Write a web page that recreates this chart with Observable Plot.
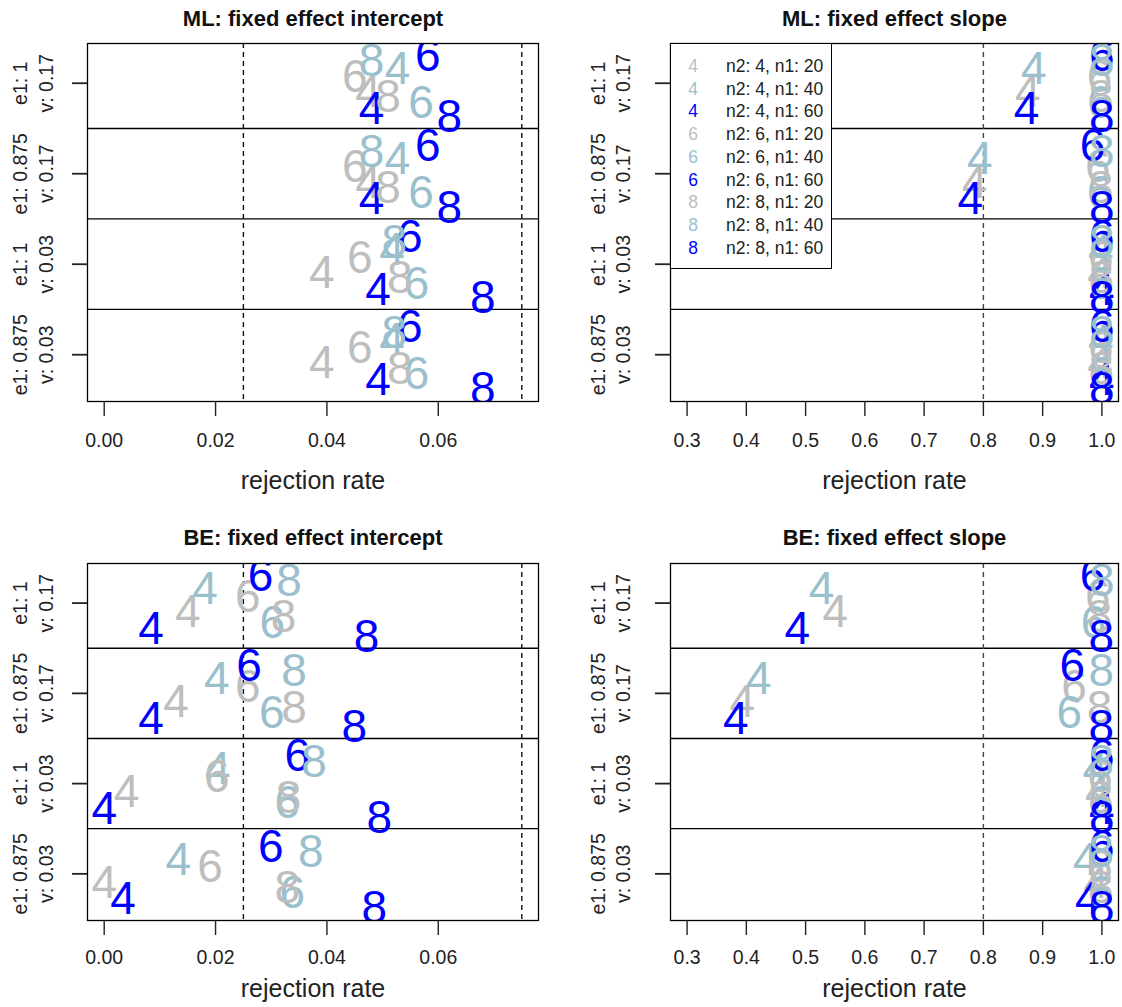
<!DOCTYPE html>
<html><head><meta charset="utf-8">
<script src="https://cdn.jsdelivr.net/npm/d3@7"></script>
<script src="https://cdn.jsdelivr.net/npm/@observablehq/plot@0.6"></script>
<style>
body{margin:0;background:#fff;}
#wrap{position:relative;width:1122px;height:1007px;overflow:hidden;font-family:"Liberation Sans",Arial,sans-serif;background:#fff;}
.panel{position:absolute;}
#legend{position:absolute;left:670px;top:43px;width:162px;height:226px;box-sizing:border-box;border:1.3px solid #000;background:#fff;}
.lrow{position:absolute;left:0;height:20px;line-height:20px;font-size:17.5px;color:#222;white-space:nowrap;}
.ldig{position:absolute;width:20px;text-align:center;}
.ltxt{position:absolute;}
</style></head><body><div id="wrap"></div>
<script>
// groups (rows of each panel)
const groupLine1 = ["e1: 1", "e1: 0.875", "e1: 1", "e1: 0.875"];
const groupLine2 = ["v: 0.17", "v: 0.17", "v: 0.03", "v: 0.03"];
// series order: (n2, n1)
const n2 = [4, 4, 4, 6, 6, 6, 8, 8, 8];
const n1 = [20, 40, 60, 20, 40, 60, 20, 40, 60];
const n1Colors = {20: "#bebebe", 40: "#9ac0cd", 60: "#0000ff"};
// vertical jitter of each series within a row (row units)
const jitter = [0.10, -0.155, 0.285, -0.07, 0.22, -0.30, 0.16, -0.24, 0.38];

// rejection rates, one array per row, series in the order above
const mlIntercept = [
  [0.0474, 0.0527, 0.0480, 0.0450, 0.0569, 0.0581, 0.0510, 0.0480, 0.0620],
  [0.0474, 0.0527, 0.0480, 0.0450, 0.0569, 0.0581, 0.0510, 0.0480, 0.0620],
  [0.0391, 0.0517, 0.0492, 0.0459, 0.0561, 0.0549, 0.0531, 0.0521, 0.0680],
  [0.0391, 0.0517, 0.0492, 0.0459, 0.0561, 0.0549, 0.0531, 0.0521, 0.0680]
];
const mlSlope = [
  [0.875, 0.885, 0.873, 0.996, 0.997, 1.000, 0.998, 1.000, 1.000],
  [0.785, 0.794, 0.778, 0.993, 0.996, 0.984, 0.998, 1.000, 1.000],
  [0.997, 0.998, 1.000, 0.998, 0.999, 1.000, 0.999, 1.000, 1.000],
  [0.997, 0.998, 1.000, 0.998, 0.999, 1.000, 0.999, 1.000, 1.000]
];
const beIntercept = [
  [0.0150, 0.0181, 0.0084, 0.0258, 0.0302, 0.0281, 0.0322, 0.0332, 0.0471],
  [0.0129, 0.0202, 0.0084, 0.0258, 0.0301, 0.0260, 0.0341, 0.0341, 0.0449],
  [0.0040, 0.0204, 0.0000, 0.0202, 0.0329, 0.0347, 0.0331, 0.0377, 0.0494],
  [0.0000, 0.0133, 0.0034, 0.0190, 0.0338, 0.0299, 0.0329, 0.0371, 0.0485]
];
const beSlope = [
  [0.550, 0.527, 0.486, 0.993, 0.986, 0.984, 0.996, 1.000, 0.999],
  [0.393, 0.421, 0.382, 0.953, 0.945, 0.950, 0.996, 0.999, 0.999],
  [0.993, 0.989, 1.000, 0.997, 0.998, 1.000, 0.998, 0.999, 1.000],
  [0.990, 0.973, 0.976, 0.997, 0.998, 1.000, 0.998, 0.999, 1.000]
];

const interceptTicks = [0, 0.02, 0.04, 0.06];
const slopeTicks = [0.3, 0.4, 0.5, 0.6, 0.7, 0.8, 0.9, 1.0];
const interceptRefs = [0.025, 0.075];
const slopeRefs = [0.8];

const FONT = "'Liberation Sans', Arial, sans-serif";
const wrap = document.getElementById("wrap");

function panel(o) {
  const data = [];
  o.rows.forEach((vals, g) => vals.forEach((v, i) => data.push({
    x: v, y: g + 1 + jitter[i], label: String(n2[i]), color: n1Colors[n1[i]]
  })));
  const chart = Plot.plot({
    width: o.width, height: o.height,
    marginTop: o.mt, marginBottom: o.mb, marginLeft: o.ml, marginRight: o.mr,
    x: {domain: o.domain},
    y: {domain: [0.561, 4.517], reverse: true},
    style: {fontFamily: FONT, fontSize: "19.5px", color: "#222", background: "white", overflow: "visible"},
    marks: [
      Plot.ruleY([1.5, 2.5, 3.5], {stroke: "#000", strokeWidth: 1.3}),
      Plot.ruleX(o.refs, {stroke: o.refColor, strokeDasharray: "5,4", strokeWidth: 1.4}),
      Plot.text(data, {x: "x", y: "y", text: "label", fill: "color", fontSize: 46, clip: true}),
      Plot.frame({stroke: "#000", strokeWidth: 1.3}),
      Plot.axisX({ticks: o.ticks, tickFormat: o.fmt, tickSize: 15, tickPadding: o.tp, label: null, fontSize: 19.5, strokeWidth: 1.4, fill: "#222"}),
      Plot.axisY({ticks: [1, 2, 3, 4], tickSize: 15, tickFormat: () => "", label: null, strokeWidth: 1.8}),
      Plot.text(groupLine1, {y: (d, i) => i + 1, frameAnchor: "left", textAnchor: "middle", lineAnchor: "middle", dx: o.ydx1, rotate: -90, fontSize: 19.5, fill: "#222"}),
      Plot.text(groupLine2, {y: (d, i) => i + 1, frameAnchor: "left", textAnchor: "middle", lineAnchor: "middle", dx: o.ydx2, rotate: -90, fontSize: 19.5, fill: "#222"}),
      Plot.text([o.title], {frameAnchor: "top", lineAnchor: "middle", dy: o.titleDy, fontSize: 22, fontWeight: "bold", fill: "#111"}),
      Plot.text(["rejection rate"], {frameAnchor: "bottom", lineAnchor: "middle", dy: o.labelDy, fontSize: 25, fill: "#222"})
    ]
  });
  chart.classList.add("panel");
  chart.style.left = o.left + "px";
  chart.style.top = o.top + "px";
  wrap.appendChild(chart);
}

const fmtI = d3.format(".2f"), fmtS = d3.format(".1f");
panel({title: "ML: fixed effect intercept", rows: mlIntercept, domain: [-0.003, 0.078], ticks: interceptTicks, fmt: fmtI, refs: interceptRefs, refColor: "#111",
  left: 0, top: 0, width: 561, height: 503, ml: 87, mr: 23, mt: 43, mb: 102, tp: 17, titleDy: -25, labelDy: 79, ydx1: -67, ydx2: -41});
panel({title: "ML: fixed effect slope", rows: mlSlope, domain: [0.272, 1.028], ticks: slopeTicks, fmt: fmtS, refs: slopeRefs, refColor: "#444",
  left: 561, top: 0, width: 561, height: 503, ml: 109, mr: 4, mt: 43, mb: 102, tp: 17, titleDy: -25, labelDy: 79, ydx1: -72, ydx2: -47});
panel({title: "BE: fixed effect intercept", rows: beIntercept, domain: [-0.003, 0.078], ticks: interceptTicks, fmt: fmtI, refs: interceptRefs, refColor: "#111",
  left: 0, top: 503, width: 561, height: 504, ml: 87, mr: 23, mt: 60, mb: 87, tp: 15, titleDy: -26, labelDy: 68, ydx1: -67, ydx2: -41});
panel({title: "BE: fixed effect slope", rows: beSlope, domain: [0.272, 1.028], ticks: slopeTicks, fmt: fmtS, refs: slopeRefs, refColor: "#444",
  left: 561, top: 503, width: 561, height: 504, ml: 109, mr: 4, mt: 60, mb: 87, tp: 15, titleDy: -26, labelDy: 68, ydx1: -72, ydx2: -47});

// legend (drawn over the top-right panel)
const legend = document.createElement("div");
legend.id = "legend";
n2.forEach((k, i) => {
  const row = document.createElement("div");
  row.className = "lrow";
  row.style.top = (12 + i * 22.7) + "px";
  row.style.width = "158px";
  const dig = document.createElement("span");
  dig.className = "ldig"; dig.style.left = "12px"; dig.style.color = n1Colors[n1[i]];
  dig.textContent = String(k);
  const txt = document.createElement("span");
  txt.className = "ltxt"; txt.style.left = "55px";
  txt.textContent = `n2: ${k}, n1: ${n1[i]}`;
  row.appendChild(dig); row.appendChild(txt);
  legend.appendChild(row);
});
wrap.appendChild(legend);
</script>
</body></html>
